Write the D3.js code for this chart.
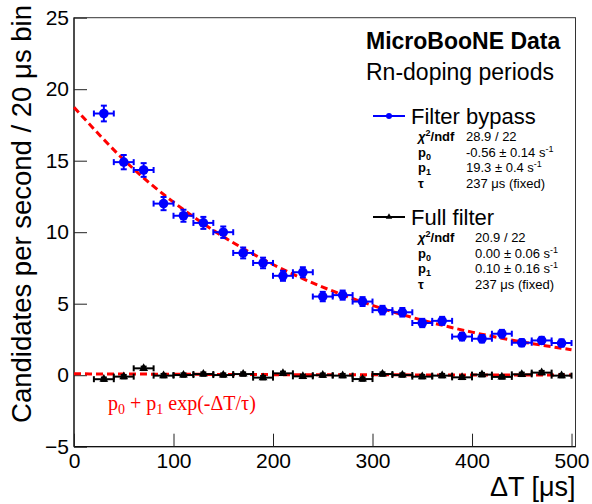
<!DOCTYPE html>
<html><head><meta charset="utf-8">
<script src="https://cdn.jsdelivr.net/npm/d3@7"></script>
<style>
body{margin:0;background:#fff}
svg{display:block}
text{font-family:"Liberation Sans",Arial,Helvetica,sans-serif;fill:#000}
</style>
</head><body>
<svg id="c" width="592" height="504"></svg>
<script>
// ---- data ----
const binCenters   = [30,50,70,90,110,130,150,170,190,210,230,250,270,290,310,330,350,370,390,410,430,450,470,490];
const binHalfWidth = 10;
const bypassValues = [18.3,14.9,14.35,12.0,11.15,10.65,10.0,8.55,7.85,6.95,7.2,5.5,5.6,5.15,4.55,4.4,3.65,3.8,2.7,2.55,2.9,2.27,2.43,2.25];
const bypassErrors = [0.55,0.5,0.48,0.46,0.42,0.42,0.4,0.38,0.37,0.35,0.35,0.33,0.32,0.31,0.3,0.3,0.29,0.28,0.27,0.26,0.27,0.25,0.25,0.25];
const fullValues   = [-0.28,-0.1,0.48,-0.03,0.01,0.08,0.01,0.08,-0.17,0.13,-0.08,0.0,-0.03,-0.27,0.08,0.01,-0.1,-0.03,-0.15,0.04,-0.12,0.06,0.18,-0.03];
const fullErrors   = [0.12,0.12,0.12,0.12,0.12,0.12,0.12,0.12,0.12,0.12,0.12,0.12,0.12,0.12,0.12,0.12,0.12,0.12,0.12,0.12,0.12,0.12,0.12,0.12];
const fitX         = [0,50,100,150,200,250,300,350,400,450,500];
const fitBypass    = [18.74,15.07,12.10,9.69,7.74,6.16,4.88,3.85,3.01,2.33,1.78];
const fitFull      = [0.10,0.08,0.07,0.05,0.04,0.03,0.03,0.02,0.02,0.01,0.01];
const xMajorTicks  = [0,100,200,300,400,500];
const xMinorTicks  = d3.range(0,501,20);
const yMajorTicks  = [-5,0,5,10,15,20,25];
const yMinorTicks  = d3.range(-5,26,1);
const statsBypass  = [["χ²/ndf","28.9 / 22"],["p0","-0.56 ± 0.14 s-1"],["p1","19.3 ± 0.4 s-1"],["τ","237 μs (fixed)"]];
const statsFull    = [["χ²/ndf","20.9 / 22"],["p0","0.00 ± 0.06 s-1"],["p1","0.10 ± 0.16 s-1"],["τ","237 μs (fixed)"]];

// ---- layout ----
const L=74, R=575.5, T=17.7, B=446.7;
const x = d3.scaleLinear().domain([0,504]).range([L,R]);
const y = d3.scaleLinear().domain([-5,25]).range([B,T]);
const svg = d3.select("#c");
svg.append("rect").attr("width",592).attr("height",504).attr("fill","#fff");

// frame
svg.append("rect").attr("x",L).attr("y",T).attr("width",R-L).attr("height",B-T)
  .attr("fill","none").attr("stroke","#333").attr("stroke-width",1);

// axes
function styleAxis(g){ g.selectAll("path").attr("stroke","#000"); g.selectAll("line").attr("stroke","#222"); }
const gy = svg.append("g").attr("transform",`translate(${L},0)`);
gy.call(d3.axisLeft(y).tickValues(yMinorTicks).tickSize(-6.5).tickSizeOuter(0).tickFormat(""));
gy.call(d3.axisLeft(y).tickValues(yMajorTicks).tickSize(-13).tickSizeOuter(0).tickPadding(5).tickFormat(d3.format("d")));
gy.selectAll("text").attr("font-size",21).attr("font-family","Liberation Sans, Arial, sans-serif").attr("fill","#000");
styleAxis(gy);

const gx = svg.append("g").attr("transform",`translate(0,${B})`);
gx.call(d3.axisBottom(x).tickValues(xMinorTicks).tickSize(-6.5).tickSizeOuter(0).tickFormat(""));
gx.call(d3.axisBottom(x).tickValues(xMajorTicks).tickSize(-13).tickSizeOuter(0).tickPadding(6).tickFormat(d3.format("d")));
gx.selectAll("text").attr("font-size",21).attr("font-family","Liberation Sans, Arial, sans-serif").attr("fill","#000");
styleAxis(gx);
gx.select(".domain").attr("d",`M${L},0H${R}`);
gy.select(".domain").attr("d",`M0,${B}V${T}`);

// axis titles
svg.append("text").attr("transform",`translate(31,5) rotate(-90)`).attr("text-anchor","end")
  .attr("font-size",27.5).text("Candidates per second / 20 μs bin");
svg.append("text").attr("x",R).attr("y",496).attr("text-anchor","end").attr("font-size",27).text("ΔT [μs]");

// fit curves
const fitLine = d3.line().x(d=>x(d[0])).y(d=>y(d[1])).curve(d3.curveNatural);
[fitBypass, fitFull].forEach(vals=>{
  svg.append("path").attr("d",fitLine(fitX.map((v,i)=>[v,vals[i]])))
    .attr("fill","none").attr("stroke","#ff0000").attr("stroke-width",3).attr("stroke-dasharray","7,4");
});

// data points with error bars
function drawSeries(vals, errs, color, marker){
  const g = svg.append("g");
  binCenters.forEach((c,i)=>{
    const cx=x(c), cy=y(vals[i]);
    const x0=x(c-binHalfWidth), x1=x(c+binHalfWidth);
    const y0=y(vals[i]-errs[i]), y1=y(vals[i]+errs[i]);
    const s = {stroke:color,"stroke-width":2};
    const ln=(a,b,c2,d)=>{const l=g.append("line").attr("x1",a).attr("y1",b).attr("x2",c2).attr("y2",d);Object.entries(s).forEach(([k,v])=>l.attr(k,v));};
    ln(x0,cy,x1,cy); ln(x0,cy-3,x0,cy+3); ln(x1,cy-3,x1,cy+3);
    ln(cx,y0,cx,y1); ln(cx-3,y0,cx+3,y0); ln(cx-3,y1,cx+3,y1);
    if(marker==="circle") g.append("circle").attr("cx",cx).attr("cy",cy).attr("r",4.8).attr("fill",color);
    else g.append("path").attr("d",d3.symbol(d3.symbolTriangle,34)()).attr("transform",`translate(${cx},${cy})`).attr("fill",color);
  });
}
drawSeries(bypassValues, bypassErrors, "#0000ff", "circle");
drawSeries(fullValues, fullErrors, "#000", "triangle");

// labels
svg.append("text").attr("x",366).attr("y",49).attr("font-size",23).attr("font-weight","bold").text("MicroBooNE Data");
svg.append("text").attr("x",366).attr("y",80).attr("font-size",23).text("Rn-doping periods");

// legend entries
function legend(yc, color, marker, label, stats, valX){
  svg.append("line").attr("x1",373).attr("x2",405).attr("y1",yc).attr("y2",yc).attr("stroke",color).attr("stroke-width",2);
  if(marker==="circle") svg.append("circle").attr("cx",389).attr("cy",yc).attr("r",3).attr("fill",color);
  else svg.append("path").attr("d",d3.symbol(d3.symbolTriangle,18)()).attr("transform",`translate(389,${yc})`).attr("fill",color);
  svg.append("text").attr("x",411).attr("y",yc+8).attr("font-size",22).text(label);
  stats.forEach((r,i)=>{
    const by = yc+25+i*15.7;
    const t = svg.append("text").attr("x",418).attr("y",by).attr("font-size",13).attr("font-weight","bold");
    if(r[0]==="χ²/ndf"){ t.append("tspan").attr("font-style","italic").text("χ"); t.append("tspan").attr("font-size",9).attr("dy",-5).text("2"); t.append("tspan").attr("dy",5).text("/ndf"); }
    else if(r[0]==="p0"||r[0]==="p1"){ t.append("tspan").text("p"); t.append("tspan").attr("font-size",9).attr("dy",3).text(r[0][1]); }
    else t.text(r[0]);
    const v = svg.append("text").attr("x",valX).attr("y",by).attr("font-size",13);
    if(r[1].endsWith("s-1")){ v.append("tspan").text(r[1].slice(0,-2)); v.append("tspan").attr("font-size",9).attr("dy",-5).text("-1"); }
    else v.text(r[1]);
  });
}
legend(116, "#0000ff", "circle", "Filter bypass", statsBypass, 466);
legend(217, "#000", "triangle", "Full filter", statsFull, 475);

// fit formula
const f = svg.append("text").attr("x",108).attr("y",410).attr("font-size",20)
  .style("font-family","'Liberation Serif','Times New Roman',serif").style("fill","#ff0000");
f.append("tspan").text("p"); f.append("tspan").attr("font-size",14).attr("dy",4).text("0");
f.append("tspan").attr("dy",-4).text(" + p"); f.append("tspan").attr("font-size",14).attr("dy",4).text("1");
f.append("tspan").attr("dy",-4).text(" exp(-ΔT/τ)");
</script>
</body></html>
